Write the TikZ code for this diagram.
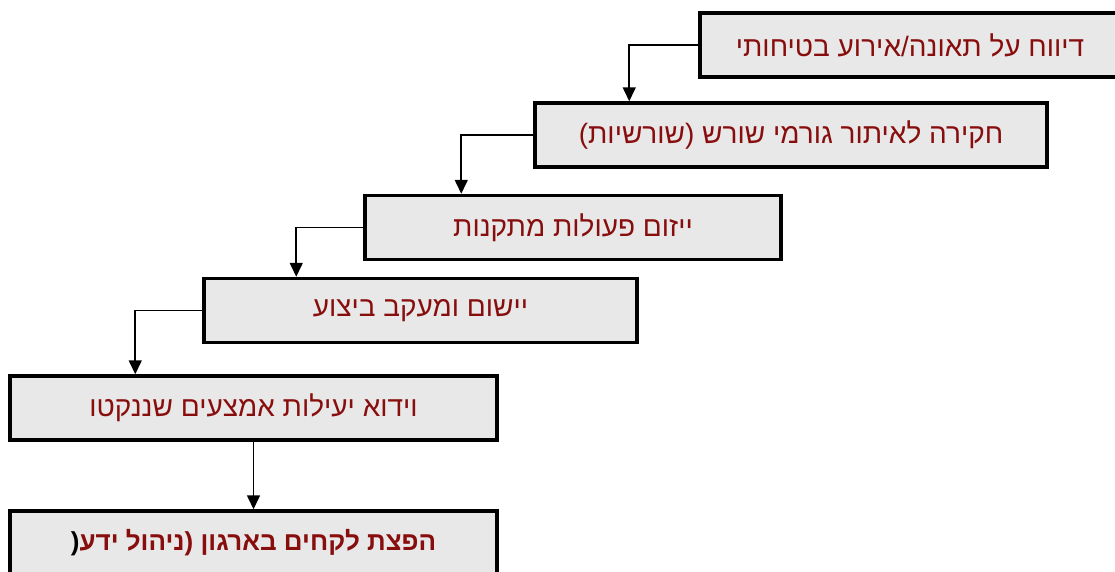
\documentclass[tikz,border=0pt]{standalone}
\usepackage{fontspec}
\setmainfont{Liberation Sans}
\newfontfamily\hebfont[Script=Hebrew]{Liberation Sans}
\TeXXeTstate=1
\usetikzlibrary{arrows.meta}
\definecolor{boxgray}{RGB}{232,232,232}
\definecolor{steptext}{RGB}{136,14,14}
\tikzset{
  stepbox/.style={draw=black, line width=3.5pt, fill=boxgray, minimum height=64pt,
    inner sep=0pt, text=steptext, font=\hebfont\fontsize{28}{32}\selectfont},
  laststep/.style={stepbox, font=\hebfont\bfseries\fontsize{26}{30}\selectfont},
  conn/.style={line width=1.6pt, -{Triangle[length=14pt,width=13pt]}}
}
\begin{document}
\begin{tikzpicture}[x=1pt,y=-1pt]
\useasboundingbox (0,0) rectangle (1115,571);
\fill[white] (0,0) rectangle (1115,571);
% the six steps of the safety-incident process
\node[stepbox, minimum width=420pt] (b1) at (910,45) {\beginR דיווח על תאונה/אירוע בטיחותי\endR};
\node[stepbox, minimum width=512pt] (b2) at (791,135) {\beginR חקירה לאיתור גורמי שורש (שורשיות)\endR};
\node[stepbox, minimum width=416pt] (b3) at (573,227.5) {\beginR ייזום פעולות מתקנות\endR};
\node[stepbox, minimum width=433pt] (b4) at (420.5,310.5) {\beginR יישום ומעקב ביצוע\endR};
\node[stepbox, minimum width=487pt] (b5) at (253.5,408) {\beginR וידוא יעילות אמצעים שננקטו\endR};
% last step: the bracket on the far left is set in black
\node[laststep, minimum width=487pt] (b6) at (253.5,543)
  {{\color{black}(}\beginR הפצת לקחים בארגון (ניהול ידע\endR};
% connectors: leave each box on its left side and drop onto the next one
\draw[conn] (b1.west) -| ([xshift=96pt]b2.north west);
\draw[conn] (b2.west) -| ([xshift=98pt]b3.north west);
\draw[conn] (b3.west) -| ([xshift=94pt]b4.north west);
\draw[conn] (b4.west) -| ([xshift=127pt]b5.north west);
\draw[conn] (b5.south) -- (b6.north);
\end{tikzpicture}
\end{document}
